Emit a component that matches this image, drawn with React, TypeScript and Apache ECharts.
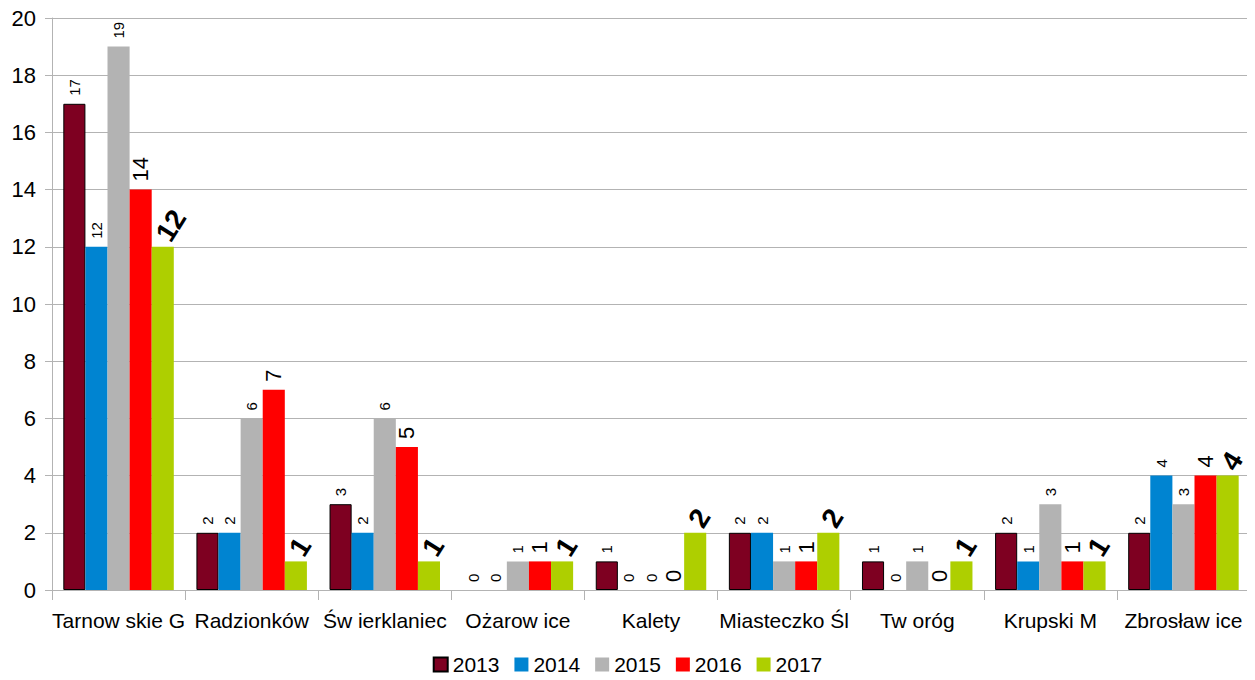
import React, { useEffect, useRef } from "react";
import * as echarts from "echarts";

const categories = ["Tarnow skie G", "Radzionków", "Św ierklaniec", "Ożarow ice", "Kalety", "Miasteczko Śl", "Tw oróg", "Krupski M", "Zbrosław ice"];
const years = ["2013", "2014", "2015", "2016", "2017"];
const v2013 = [17, 2, 3, 0, 1, 2, 1, 2, 2];
const v2014 = [12, 2, 2, 0, 0, 2, 0, 1, 4];
const v2015 = [19, 6, 6, 1, 0, 1, 1, 3, 3];
const v2016 = [14, 7, 5, 1, 0, 1, 0, 1, 4];
const v2017 = [12, 1, 1, 1, 2, 2, 1, 1, 4];
const colors = ["#7e0021", "#0084d1", "#b3b3b3", "#ff0000", "#aecf00"];

export default function App() {
  const ref = useRef<HTMLDivElement>(null);
  useEffect(() => {
    const chart = echarts.init(ref.current!, null, { renderer: "svg" });
    const data = [v2013, v2014, v2015, v2016, v2017];
    const font = "Liberation Sans";
    const labelFor = (i: number) => {
      if (i < 3) {
        return { show: true, position: "top", rotate: 90, align: "left", verticalAlign: "middle", distance: 8, fontSize: 15, color: "#000", fontFamily: font };
      }
      if (i === 3) {
        return { show: true, position: "top", rotate: 90, align: "left", verticalAlign: "middle", distance: 8, fontSize: 22, color: "#000", fontFamily: font };
      }
      return { show: true, position: "top", rotate: 58, align: "left", verticalAlign: "middle", distance: 8, fontSize: 28, fontWeight: "bold", color: "#000", fontFamily: font };
    };
    chart.setOption({
      animation: false,
      color: colors,
      textStyle: { fontFamily: font },
      grid: { left: 52, right: 5, top: 18, bottom: 90, containLabel: false },
      legend: {
        bottom: 0,
        left: "center",
        itemWidth: 14,
        itemHeight: 14,
        itemGap: 15,
        textStyle: { fontSize: 21, color: "#000", fontFamily: font },
        data: years.map((y) => ({ name: y, icon: "rect" })),
      },
      xAxis: {
        type: "category",
        data: categories,
        axisLine: { lineStyle: { color: "#b3b3b3" } },
        axisTick: { show: true, length: 10, lineStyle: { color: "#b3b3b3" } },
        axisLabel: { fontSize: 21, color: "#000", margin: 20, fontFamily: font, interval: 0 },
      },
      yAxis: {
        type: "value",
        min: 0,
        max: 20,
        interval: 2,
        axisLine: { show: true, lineStyle: { color: "#b3b3b3" } },
        axisTick: { show: true, length: 7, lineStyle: { color: "#b3b3b3" } },
        axisLabel: { fontSize: 22, color: "#000", margin: 16, fontFamily: font },
        splitLine: { lineStyle: { color: "#b3b3b3" } },
      },
      series: years.map((y, i) => ({
        name: y,
        type: "bar",
        data: data[i].map((v) =>
          i === 0 && v === 0 ? { value: v, itemStyle: { borderWidth: 0 } } : v
        ),
        barGap: "0%",
        barCategoryGap: "17%",
        itemStyle: i === 0 ? { color: colors[i], borderColor: "#000", borderWidth: 1 } : { color: colors[i] },
        label: labelFor(i),
      })),
    });
    return () => chart.dispose();
  }, []);
  return <div ref={ref} style={{ width: 1255, height: 680, marginLeft: -8, marginTop: -8 }} />;
}
